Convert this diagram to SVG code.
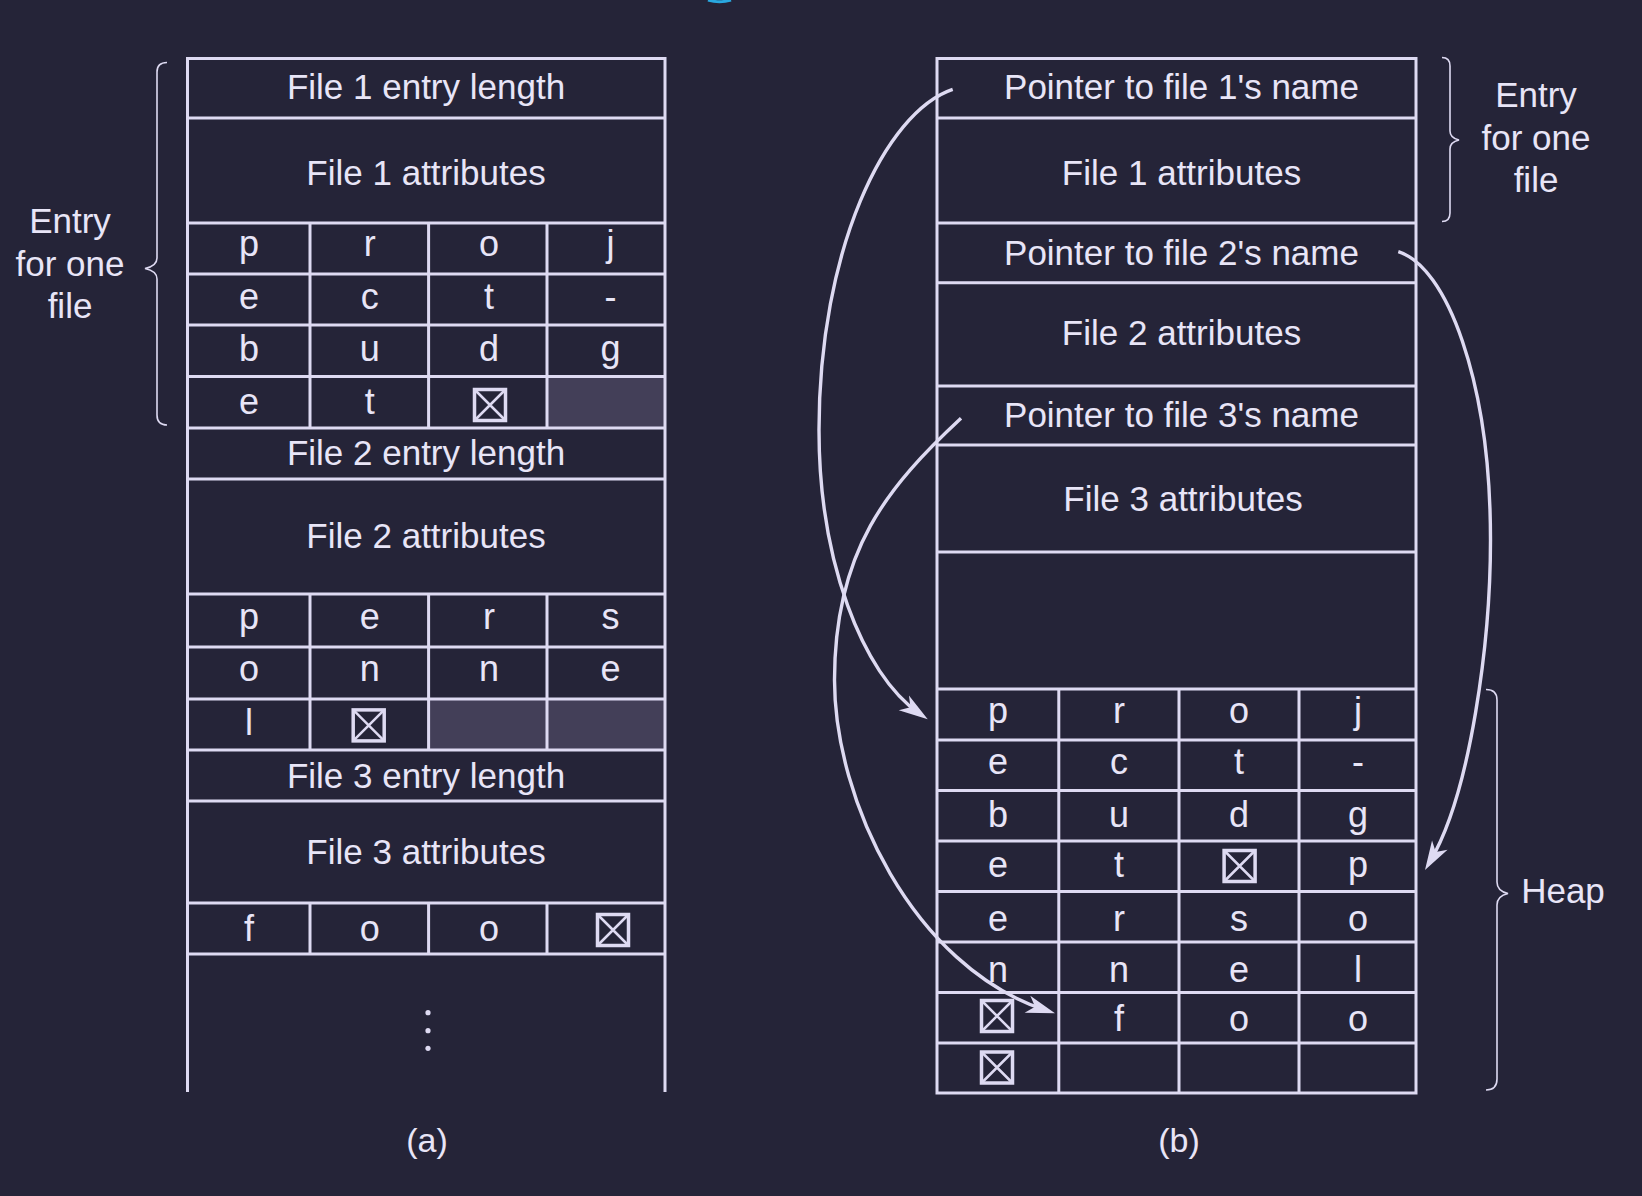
<svg xmlns="http://www.w3.org/2000/svg" width="1642" height="1196" viewBox="0 0 1642 1196">
<defs>
<style>
.bg{fill:#252438}
.ln{stroke:#dedaf2;stroke-width:3;fill:none}
.br{stroke:#dedaf2;stroke-width:1.6;fill:none}
.sh{fill:#433f58}
.t{font-family:"Liberation Sans",Arial,sans-serif;font-size:35px;fill:#e8e5f7;text-anchor:middle}
.c{font-family:"Liberation Sans",Arial,sans-serif;font-size:36px;fill:#e8e5f7;text-anchor:middle}
.cap{font-family:"Liberation Sans",Arial,sans-serif;font-size:34px;fill:#e8e5f7;text-anchor:middle}
.arr{stroke:#dedaf2;stroke-width:3.4;fill:none}
</style>
<g id="nul">
<rect x="-15.5" y="-15.5" width="31" height="31" fill="none" stroke="#dedaf2" stroke-width="3.5"/>
<path d="M-15.5,-15.5 L15.5,15.5 M15.5,-15.5 L-15.5,15.5" stroke="#dedaf2" stroke-width="2.5"/>
</g>
<marker id="ah" markerUnits="userSpaceOnUse" markerWidth="40" markerHeight="24" viewBox="-22 -12 34 24" refX="0" refY="0" orient="auto">
<path d="M10,0 L-19,-9 L-11,0 L-19,9 Z" fill="#dedaf2"/>
</marker>
</defs>
<rect class="bg" x="0" y="0" width="1642" height="1196"/>
<path d="M708,0 Q719.5,3.5 731,0" stroke="#29a8e0" stroke-width="3" fill="none"/>

<g id="table-a">
<rect class="sh" x="547" y="376.5" width="118" height="51.5"/>
<rect class="sh" x="428.6" y="699" width="236.4" height="51"/>
<path class="ln" d="M187.5,1092 V58.5 H665 V1092"/>
<path class="ln" d="M187.5,118 H665 M187.5,223 H665 M187.5,274 H665 M187.5,325 H665 M187.5,376.5 H665 M187.5,428 H665 M187.5,479 H665 M187.5,594 H665 M187.5,647 H665 M187.5,699 H665 M187.5,750 H665 M187.5,801 H665 M187.5,903 H665 M187.5,954 H665"/>
<path class="ln" d="M310,223 V428 M428.6,223 V428 M547,223 V428 M310,594 V750 M428.6,594 V750 M547,594 V750 M310,903 V954 M428.6,903 V954 M547,903 V954"/>
<text class="t" x="426" y="99">File 1 entry length</text>
<text class="t" x="426" y="185">File 1 attributes</text>
<text class="c" x="249" y="256">p</text><text class="c" x="369.8" y="256">r</text><text class="c" x="489" y="256">o</text><text class="c" x="610.5" y="256">j</text>
<text class="c" x="249" y="308.5">e</text><text class="c" x="369.8" y="308.5">c</text><text class="c" x="489" y="308.5">t</text><text class="c" x="610.5" y="308.5">-</text>
<text class="c" x="249" y="361">b</text><text class="c" x="369.8" y="361">u</text><text class="c" x="489" y="361">d</text><text class="c" x="610.5" y="361">g</text>
<text class="c" x="249" y="414">e</text><text class="c" x="369.8" y="414">t</text><use href="#nul" x="490" y="405"/>
<text class="t" x="426" y="465">File 2 entry length</text>
<text class="t" x="426" y="548">File 2 attributes</text>
<text class="c" x="249" y="629">p</text><text class="c" x="369.8" y="629">e</text><text class="c" x="489" y="629">r</text><text class="c" x="610.5" y="629">s</text>
<text class="c" x="249" y="681">o</text><text class="c" x="369.8" y="681">n</text><text class="c" x="489" y="681">n</text><text class="c" x="610.5" y="681">e</text>
<text class="c" x="249" y="735">l</text><use href="#nul" x="368.7" y="725.4"/>
<text class="t" x="426" y="788">File 3 entry length</text>
<text class="t" x="426" y="864">File 3 attributes</text>
<text class="c" x="249" y="941">f</text><text class="c" x="369.8" y="941">o</text><text class="c" x="489" y="941">o</text><use href="#nul" x="613" y="930"/>
<circle cx="428" cy="1012.7" r="2.6" fill="#dedaf2"/>
<circle cx="428" cy="1030.7" r="2.6" fill="#dedaf2"/>
<circle cx="428" cy="1048.3" r="2.6" fill="#dedaf2"/>
<text class="cap" x="427" y="1152">(a)</text>
</g>

<g id="brace-a">
<path class="br" d="M167,62.5 Q157,62.5 157,72 L157,258 Q157,266 145,268.5 Q157,271 157,279 L157,415 Q157,425 167,425"/>
<text class="t" x="70" y="233">Entry</text>
<text class="t" x="70" y="276">for one</text>
<text class="t" x="70" y="318">file</text>
</g>

<g id="table-b">
<path class="ln" d="M937,58.5 H1416 V1093 H937 Z"/>
<path class="ln" d="M937,118 H1416 M937,223 H1416 M937,282.7 H1416 M937,386 H1416 M937,445 H1416 M937,552 H1416 M937,689 H1416 M937,740 H1416 M937,790.5 H1416 M937,841 H1416 M937,891.5 H1416 M937,942 H1416 M937,992.5 H1416 M937,1043 H1416"/>
<path class="ln" d="M1058.8,689 V1093 M1179,689 V1093 M1299,689 V1093"/>
<text class="t" x="1181.5" y="99">Pointer to file 1's name</text>
<text class="t" x="1181.5" y="185">File 1 attributes</text>
<text class="t" x="1181.5" y="265">Pointer to file 2's name</text>
<text class="t" x="1181.5" y="345">File 2 attributes</text>
<text class="t" x="1181.5" y="427">Pointer to file 3's name</text>
<text class="t" x="1183" y="510.5">File 3 attributes</text>
<text class="c" x="998" y="723">p</text><text class="c" x="1119" y="723">r</text><text class="c" x="1239" y="723">o</text><text class="c" x="1358" y="723">j</text>
<text class="c" x="998" y="774">e</text><text class="c" x="1119" y="774">c</text><text class="c" x="1239" y="774">t</text><text class="c" x="1358" y="774">-</text>
<text class="c" x="998" y="827">b</text><text class="c" x="1119" y="827">u</text><text class="c" x="1239" y="827">d</text><text class="c" x="1358" y="827">g</text>
<text class="c" x="998" y="877">e</text><text class="c" x="1119" y="877">t</text><use href="#nul" x="1239.6" y="866"/><text class="c" x="1358" y="877">p</text>
<text class="c" x="998" y="931">e</text><text class="c" x="1119" y="931">r</text><text class="c" x="1239" y="931">s</text><text class="c" x="1358" y="931">o</text>
<text class="c" x="998" y="982">n</text><text class="c" x="1119" y="982">n</text><text class="c" x="1239" y="982">e</text><text class="c" x="1358" y="982">l</text>
<use href="#nul" x="997" y="1016"/><text class="c" x="1119" y="1031">f</text><text class="c" x="1239" y="1031">o</text><text class="c" x="1358" y="1031">o</text>
<use href="#nul" x="997" y="1067.5"/>
<text class="cap" x="1179" y="1152">(b)</text>
</g>

<g id="brace-entry-b">
<path class="br" d="M1442,57.5 Q1450,57.5 1450,66 L1450,131 Q1450,138 1459,140 Q1450,142 1450,149 L1450,213 Q1450,221.5 1442,221.5"/>
<text class="t" x="1536" y="107">Entry</text>
<text class="t" x="1536" y="149.5">for one</text>
<text class="t" x="1536" y="191.5">file</text>
</g>

<g id="brace-heap">
<path class="br" d="M1486,689.5 Q1497,689.5 1497,700 L1497,882 Q1497,891 1508,893.5 Q1497,896 1497,905 L1497,1079 Q1497,1090 1486,1090"/>
<text class="t" x="1563" y="903">Heap</text>
</g>

<g id="connectors">
<path class="arr" marker-end="url(#ah)" d="M952.7,89.3 C885,112 819,250 819,430 C819,560 862,674 919.5,713.6"/>
<path class="arr" marker-end="url(#ah)" d="M1398.3,251.7 C1446.3,266.2 1490.5,380 1490.5,540 C1490.5,640 1470.9,792.6 1430.1,861.4"/>
<path class="arr" marker-end="url(#ah)" d="M961,418.3 C888,486.3 834.5,550 834.5,680 C834.5,800 912.6,966.1 1045.5,1010.2"/>
</g>
</svg>
